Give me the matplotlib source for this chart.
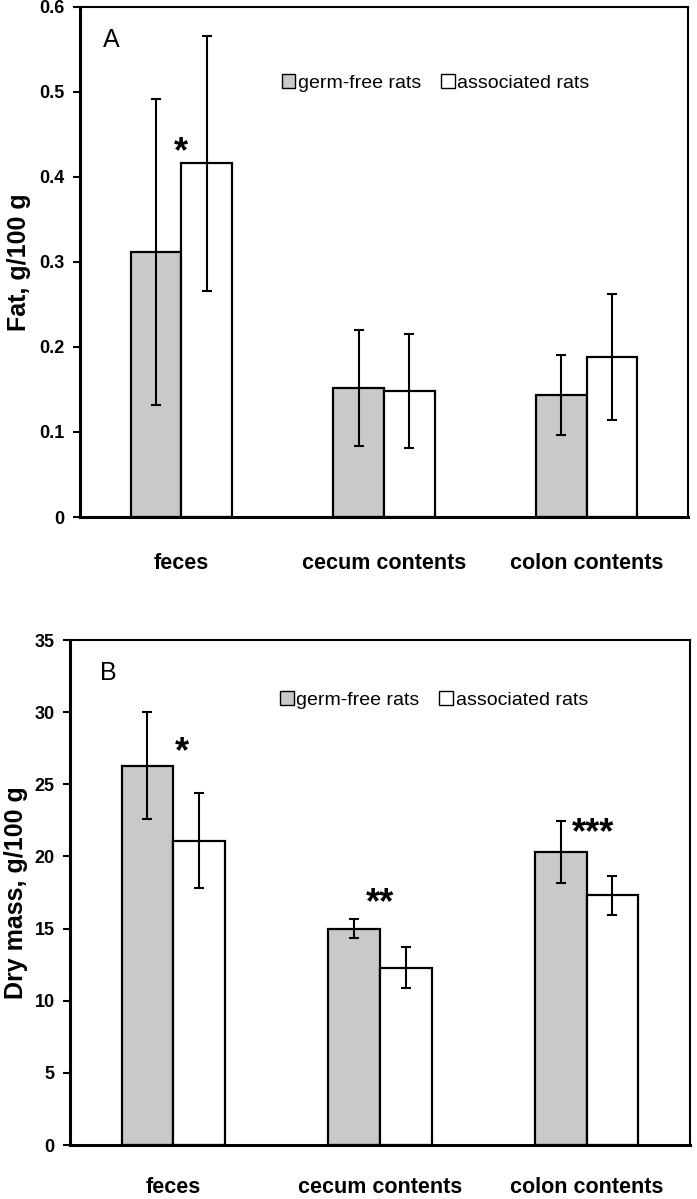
import matplotlib
matplotlib.use("Agg")
import matplotlib.pyplot as plt
import numpy as np
from matplotlib.patches import Patch

plt.rcParams['font.family'] = ['Liberation Sans', 'DejaVu Sans']

categories = ['feces', 'cecum contents', 'colon contents']
series = ['germ-free rats', 'associated rats']

# panel A - fat
fat_gf = [0.312, 0.152, 0.143]
fat_gf_err = [0.180, 0.068, 0.047]
fat_as = [0.416, 0.148, 0.188]
fat_as_err = [0.150, 0.067, 0.074]
fat_ticks = [0, 0.1, 0.2, 0.3, 0.4, 0.5, 0.6]
fat_ticklabels = ['0', '0.1', '0.2', '0.3', '0.4', '0.5', '0.6']
fat_stars = [('*', 0.0, 0.429)]

# panel B - dry mass
dry_gf = [26.3, 15.0, 20.3]
dry_gf_err = [3.7, 0.65, 2.15]
dry_as = [21.1, 12.3, 17.3]
dry_as_err = [3.3, 1.45, 1.35]
dry_ticks = [0, 5, 10, 15, 20, 25, 30, 35]
dry_ticklabels = ['0', '5', '10', '15', '20', '25', '30', '35']
dry_stars = [('*', 0.04, 27.2), ('**', 1.0, 16.7), ('***', 2.03, 21.6)]

gray = '#c9c9c9'
w = 0.25

fig = plt.figure(figsize=(6.97, 11.99), dpi=100)
axA = fig.add_axes([0.1148, 0.5688, 0.8723, 0.4254])
axB = fig.add_axes([0.1004, 0.0450, 0.8895, 0.4212])


def panel(ax, gf, gf_err, asc, as_err, ticks, ticklabels, ylabel, letter, letter_x,
          stars, leg_pos, xpad, ypad):
    x = np.arange(len(categories))
    ax.bar(x - w / 2, gf, w, color=gray, edgecolor='black', linewidth=1.6, zorder=2)
    ax.bar(x + w / 2, asc, w, color='white', edgecolor='black', linewidth=1.6, zorder=2)
    ax.errorbar(x - w / 2, gf, yerr=gf_err, fmt='none', ecolor='black',
                elinewidth=1.5, capsize=3.5, capthick=1.5, zorder=3)
    ax.errorbar(x + w / 2, asc, yerr=as_err, fmt='none', ecolor='black',
                elinewidth=1.5, capsize=3.5, capthick=1.5, zorder=3)
    ax.set_xlim(-0.5, len(categories) - 0.5)
    ax.set_ylim(ticks[0], ticks[-1])
    ax.set_yticks(ticks)
    ax.set_yticklabels(ticklabels, fontsize=13, fontweight='bold')
    ax.set_xticks(x)
    ax.set_xticklabels(categories, fontsize=15.5, fontweight='bold')
    ax.tick_params(axis='x', length=0, pad=xpad)
    ax.tick_params(axis='y', direction='out', length=5, width=1.5, pad=6)
    ax.set_ylabel(ylabel, fontsize=18, fontweight='bold', labelpad=ypad)
    for s in ['top', 'right']:
        ax.spines[s].set_linewidth(1.5)
    for s in ['left', 'bottom']:
        ax.spines[s].set_linewidth(2.2)
    ax.text(letter_x, 0.935, letter, transform=ax.transAxes, fontsize=18,
            ha='left', va='center')
    for txt, sx, sy in stars:
        ax.text(sx, sy, txt, fontsize=26, fontweight='bold', ha='center', va='center')
    handles = [Patch(facecolor=gray, edgecolor='black', linewidth=1),
               Patch(facecolor='white', edgecolor='black', linewidth=1)]
    ax.legend(handles, series, loc='center', bbox_to_anchor=leg_pos, ncol=2,
              frameon=False, fontsize=14, handlelength=0.7, handleheight=0.7,
              handletextpad=0.15, columnspacing=1.0)


panel(axA, fat_gf, fat_gf_err, fat_as, fat_as_err, fat_ticks, fat_ticklabels,
      'Fat, g/100 g', 'A', 0.038, fat_stars, (0.585, 0.851), 26, 6)
panel(axB, dry_gf, dry_gf_err, dry_as, dry_as_err, dry_ticks, dry_ticklabels,
      'Dry mass, g/100 g', 'B', 0.048, dry_stars, (0.587, 0.881), 23, 5)

fig.savefig('out.png', dpi=100)
